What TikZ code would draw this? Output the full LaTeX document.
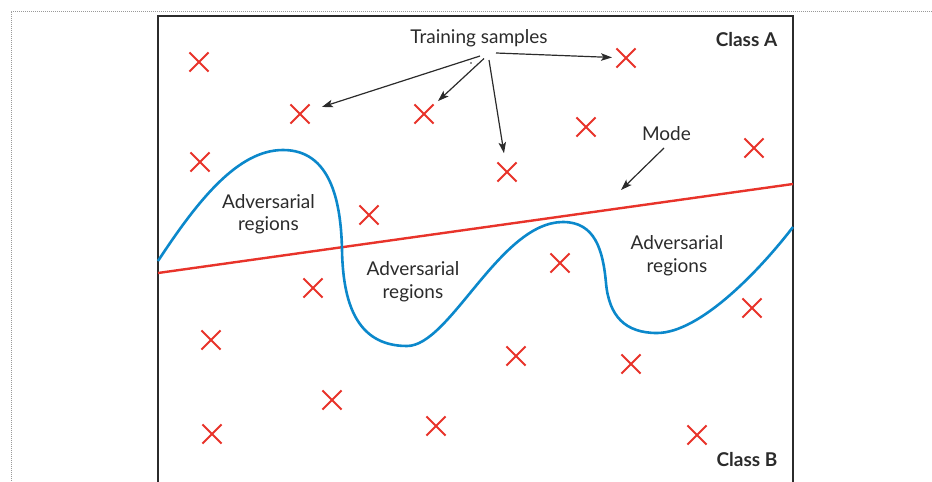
\documentclass[tikz,border=0pt]{standalone}
\usepackage{fontspec}
\setmainfont{Lato}
\usetikzlibrary{arrows.meta,shapes.misc}
\definecolor{xred}{HTML}{E8332A}
\definecolor{cblue}{HTML}{0B88CB}
\definecolor{ink}{HTML}{2B2B2B}
\begin{document}
\begin{tikzpicture}[x=1pt,y=-1pt,
  xmark/.style={draw=xred, cross out, line width=2.1pt, minimum size=17pt, inner sep=0pt},
  lbl/.style={font=\fontsize{19}{22.7}\selectfont, text=ink, inner sep=0pt, align=center, anchor=base},
  blbl/.style={lbl, font=\fontsize{19}{22.7}\selectfont\bfseries},
  arr/.style={draw=ink, line width=1.2pt, -{Stealth[length=11pt,width=7.5pt,inset=2.5pt]}},
  frame/.style={draw=gray!80, line width=0.8pt, dash pattern=on 1pt off 1pt},
  boxline/.style={draw=ink, line width=1.3pt},
  modeline/.style={draw=xred, line width=2.4pt},
  advline/.style={draw=cblue, line width=2.6pt}
]
\useasboundingbox (0,0) rectangle (932,482);
% dotted outer frame
\draw[frame] (932,11) -- (11,11) -- (11,482);
% plot box
\draw[boxline] (158,482) -- (158,16) -- (793,16) -- (793,482);

% labels
\node[lbl] (ts) at (479,43) {Training samples};
\node[blbl] (ca) at (746.5,46.5) {Class A};
\node[blbl] (cb) at (747,466) {Class B};
\node[lbl] (mode) at (666.5,140) {Mode};
\node[lbl] (adv1) at (268.5,230.7) {Adversarial\\regions};
\node[lbl] (adv2) at (413,298) {Adversarial\\regions};
\node[lbl] (adv3) at (677,272.5) {Adversarial\\regions};

% training samples (crosses)
\node[xmark] (c1) at (199,62) {};
\node[xmark] (c2) at (300,114) {};
\node[xmark] (c3) at (424,114) {};
\node[xmark] (c4) at (626,58) {};
\node[xmark] (c5) at (586,127) {};
\node[xmark] (c6) at (507,172) {};
\node[xmark] (c7) at (754,148) {};
\node[xmark] (c8) at (200,162) {};
\node[xmark] (c9) at (369,215) {};
\node[xmark] (c10) at (313,288) {};
\node[xmark] (c11) at (211,340) {};
\node[xmark] (c12) at (560,263) {};
\node[xmark] (c13) at (752,308) {};
\node[xmark] (c14) at (516,356) {};
\node[xmark] (c15) at (631,364) {};
\node[xmark] (c16) at (332,400) {};
\node[xmark] (c17) at (436,426) {};
\node[xmark] (c18) at (212,434) {};
\node[xmark] (c19) at (697,435) {};

% model (red line)
\coordinate (ml) at (158,273);
\coordinate (mr) at (793,184);
\draw[modeline] (ml) -- (mr);

% adversarial boundary (blue curve)
\draw[advline] (158,261)
  .. controls (198,200) and (238,150) .. (283,150)
  .. controls (330,150) and (341,200) .. (342,250)
  .. controls (343,300) and (355,346) .. (407,346)
  .. controls (450,346) and (500,222) .. (563,222)
  .. controls (595,222) and (603,250) .. (606,283)
  .. controls (609,316) and (625,333) .. (657,333)
  .. controls (700,333) and (760,270) .. (793,227);

% arrows
\coordinate (s1) at (480,56);
\coordinate (s2) at (484,58.5);
\coordinate (s3) at (489,60);
\coordinate (s4) at (496,53);
\coordinate (s5) at (664,148);
\coordinate (m) at (621,190);
\draw[arr, shorten >=23pt] (s1) -- (c2.center);
\draw[arr, shorten >=19pt] (s2) -- (c3.center);
\draw[arr, shorten >=19pt] (s3) -- (c6.center);
\draw[arr, shorten >=14pt] (s4) -- (c4.center);
\draw[arr] (s5) -- (m);
\fill[ink] (471,63) circle (0.8pt);
\end{tikzpicture}
\end{document}
